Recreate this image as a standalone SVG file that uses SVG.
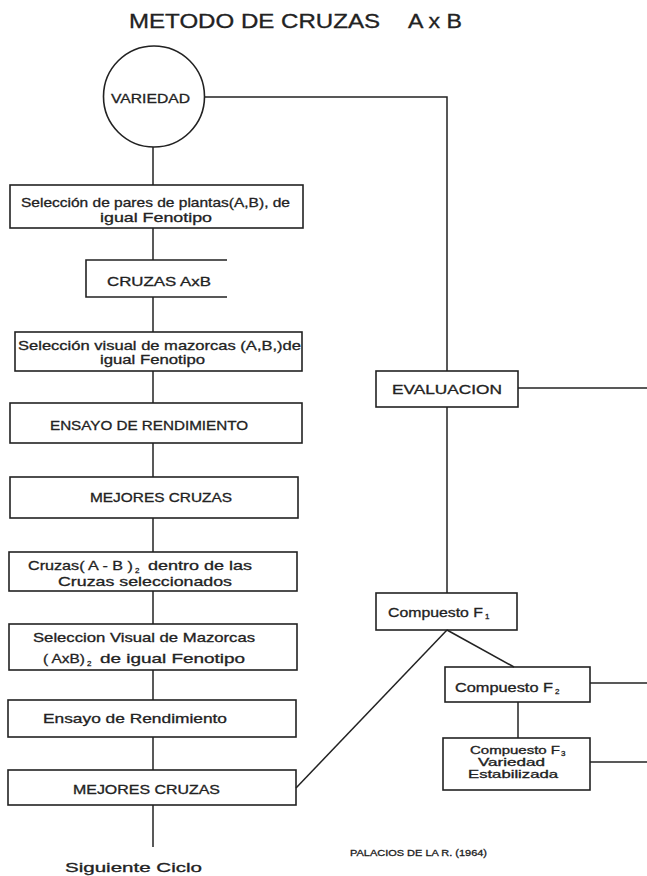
<svg xmlns="http://www.w3.org/2000/svg" width="647" height="876" viewBox="0 0 647 876">
<style>
  .bx{fill:none;stroke:#222;stroke-width:1.6}
  .ln{fill:none;stroke:#222;stroke-width:1.5}
  text{font-family:"Liberation Sans",Arial,sans-serif;fill:#222;stroke:#222;stroke-width:0.3}
  .t{font-size:13px}
  .s{font-size:8px}
  .f3{font-size:10px}
</style>
<rect width="647" height="876" fill="#fff"/>
<g id="title">
  <text x="129" y="28" font-size="19.5" stroke-width="0.5" textLength="251" lengthAdjust="spacingAndGlyphs">METODO DE CRUZAS</text>
  <text x="408" y="28" font-size="19.5" stroke-width="0.5" textLength="54" lengthAdjust="spacingAndGlyphs">A x B</text>
</g>
<g id="connectors">
  <path class="ln" d="M153 147 V185"/>
  <path class="ln" d="M205 97 H447 V371"/>
  <path class="ln" d="M153 228 V260"/>
  <path class="ln" d="M153 297 V332"/>
  <path class="ln" d="M153 371 V403"/>
  <path class="ln" d="M153 443 V477"/>
  <path class="ln" d="M153 518 V552"/>
  <path class="ln" d="M153 591 V624"/>
  <path class="ln" d="M153 670 V700"/>
  <path class="ln" d="M153 737 V770"/>
  <path class="ln" d="M153 805 V847"/>
  <path class="ln" d="M447 407 V593"/>
  <path class="ln" d="M518 388 H647"/>
  <path class="ln" d="M447 630 L296 788"/>
  <path class="ln" d="M447 630 L514 667"/>
  <path class="ln" d="M518 702 V738"/>
  <path class="ln" d="M590 683 H647"/>
  <path class="ln" d="M590 762 H647"/>
</g>
<g id="variedad">
  <circle class="bx" cx="154" cy="96.5" r="50.5"/>
  <text x="111" y="103" font-size="13" textLength="79" lengthAdjust="spacingAndGlyphs">VARIEDAD</text>
</g>
<g id="seleccion-pares">
  <rect class="bx" x="10" y="185" width="293" height="43"/>
  <text class="t" x="21" y="207" textLength="269" lengthAdjust="spacingAndGlyphs">Selección de pares de plantas(A,B), de</text>
  <text class="t" x="100" y="222" textLength="112" lengthAdjust="spacingAndGlyphs">igual Fenotipo</text>
</g>
<g id="cruzas-axb">
  <path class="bx" d="M227 260 H86 V297 H227"/>
  <text class="t" x="107" y="286" textLength="104" lengthAdjust="spacingAndGlyphs">CRUZAS AxB</text>
</g>
<g id="seleccion-visual">
  <rect class="bx" x="15" y="332" width="287" height="39"/>
  <text class="t" x="18" y="350" textLength="283" lengthAdjust="spacingAndGlyphs">Selección visual de mazorcas (A,B,)de</text>
  <text class="t" x="100" y="364" textLength="105" lengthAdjust="spacingAndGlyphs">igual Fenotipo</text>
</g>
<g id="ensayo1">
  <rect class="bx" x="10" y="403" width="292" height="40"/>
  <text class="t" x="50" y="430" textLength="198" lengthAdjust="spacingAndGlyphs">ENSAYO DE RENDIMIENTO</text>
</g>
<g id="mejores1">
  <rect class="bx" x="10" y="477" width="288" height="41"/>
  <text class="t" x="90" y="502" textLength="142" lengthAdjust="spacingAndGlyphs">MEJORES CRUZAS</text>
</g>
<g id="cruzas-ab2">
  <rect class="bx" x="9" y="552" width="288" height="39"/>
  <text class="t" x="28" y="570" textLength="105" lengthAdjust="spacingAndGlyphs">Cruzas( A - B )</text>
  <text class="s" x="135" y="573">2</text>
  <text class="t" x="148" y="570" textLength="104" lengthAdjust="spacingAndGlyphs">dentro de las</text>
  <text class="t" x="58" y="586" textLength="174" lengthAdjust="spacingAndGlyphs">Cruzas seleccionados</text>
</g>
<g id="seleccion-visual2">
  <rect class="bx" x="9" y="624" width="288" height="46"/>
  <text class="t" x="33" y="642" textLength="222" lengthAdjust="spacingAndGlyphs">Seleccion Visual de Mazorcas</text>
  <text class="t" x="43" y="663" textLength="42" lengthAdjust="spacingAndGlyphs">( AxB)</text>
  <text class="s" x="87" y="666">2</text>
  <text class="t" x="100" y="663" textLength="145" lengthAdjust="spacingAndGlyphs">de igual Fenotipo</text>
</g>
<g id="ensayo2">
  <rect class="bx" x="8" y="700" width="288" height="37"/>
  <text class="t" x="43" y="723" textLength="184" lengthAdjust="spacingAndGlyphs">Ensayo de Rendimiento</text>
</g>
<g id="mejores2">
  <rect class="bx" x="8" y="770" width="288" height="35"/>
  <text class="t" x="73" y="794" textLength="147" lengthAdjust="spacingAndGlyphs">MEJORES CRUZAS</text>
</g>
<g id="siguiente">
  <text x="65" y="872" font-size="13" textLength="137" lengthAdjust="spacingAndGlyphs">Siguiente Ciclo</text>
</g>
<g id="evaluacion">
  <rect class="bx" x="376" y="371" width="142" height="36"/>
  <text class="t" x="392" y="394" textLength="110" lengthAdjust="spacingAndGlyphs">EVALUACION</text>
</g>
<g id="compuesto-f1">
  <rect class="bx" x="376" y="593" width="141" height="37"/>
  <text class="t" x="388" y="617" textLength="95" lengthAdjust="spacingAndGlyphs">Compuesto F</text>
  <text class="s" x="485" y="619">1</text>
</g>
<g id="compuesto-f2">
  <rect class="bx" x="445" y="667" width="145" height="35"/>
  <text class="t" x="455" y="692" textLength="98" lengthAdjust="spacingAndGlyphs">Compuesto F</text>
  <text class="s" x="555" y="694">2</text>
</g>
<g id="compuesto-f3">
  <rect class="bx" x="443" y="738" width="147" height="52"/>
  <text class="f3" x="470" y="754" textLength="90" lengthAdjust="spacingAndGlyphs">Compuesto F</text>
  <text class="s" x="561" y="756">3</text>
  <text class="f3" x="478" y="766" textLength="67" lengthAdjust="spacingAndGlyphs">Variedad</text>
  <text class="f3" x="468" y="778" textLength="90" lengthAdjust="spacingAndGlyphs">Estabilizada</text>
</g>
<g id="credit">
  <text x="350" y="856" font-size="9" textLength="137" lengthAdjust="spacingAndGlyphs">PALACIOS DE LA R.   (1964)</text>
</g>
</svg>
